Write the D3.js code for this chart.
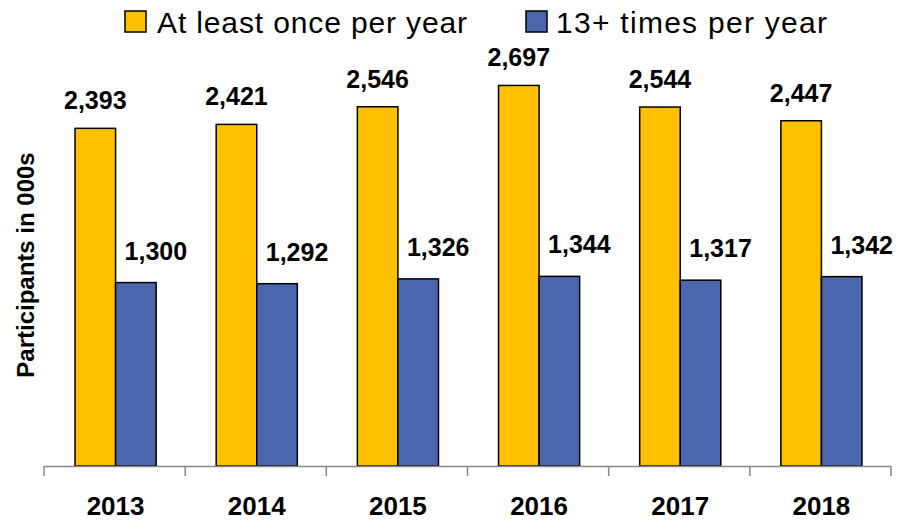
<!DOCTYPE html>
<html>
<head>
<meta charset="utf-8">
<script src="https://cdn.jsdelivr.net/npm/d3@7"></script>
<style>
  body { margin: 0; background: #fff; }
</style>
</head>
<body>
<div id="chart"></div>
<script>
const years = ["2013", "2014", "2015", "2016", "2017", "2018"];
const seriesNames = ["At least once per year", "13+ times per year"];
const onceValues = [2393, 2421, 2546, 2697, 2544, 2447];
const thirteenValues = [1300, 1292, 1326, 1344, 1317, 1342];
const seriesColors = ["#FFC000", "#4A66AC"];

const width = 901;
const height = 522;
const labelFont = "'Liberation Sans', Arial, sans-serif";

const svg = d3.select("#chart")
  .append("svg")
  .attr("width", width)
  .attr("height", height);

const x = d3.scaleBand()
  .domain(years)
  .range([44, 891]);

// two bars per year, ~40px each, sitting in the middle of the band
const inner = d3.scaleBand()
  .domain([0, 1])
  .range([1, x.bandwidth() + 1])
  .paddingOuter(0.74)
  .paddingInner(0);

const y = d3.scaleLinear()
  .domain([0, 3000])
  .range([466, 466 - 0.1411 * 3000]);

const series = [onceValues, thirteenValues];

// bars + value labels
series.forEach((values, s) => {
  svg.append("g")
    .selectAll("rect")
    .data(values)
    .enter()
    .append("rect")
    .attr("x", (d, i) => x(years[i]) + inner(s))
    .attr("y", d => y(d))
    .attr("width", inner.bandwidth())
    .attr("height", d => y(0) - y(d))
    .attr("fill", seriesColors[s])
    .attr("stroke", "#000")
    .attr("stroke-width", 1.5);

  svg.append("g")
    .selectAll("text")
    .data(values)
    .enter()
    .append("text")
    .attr("x", (d, i) => x(years[i]) + inner(s) + inner.bandwidth() / 2 + (s === 1 ? 20 : 0))
    .attr("y", d => y(d) - (s === 1 ? 23 : 19))
    .attr("text-anchor", "middle")
    .attr("font-family", labelFont)
    .attr("font-weight", "bold")
    .attr("font-size", "25px")
    .attr("fill", "#000")
    .text(d => d3.format(",")(d));
});

// x axis: baseline with ticks on the category boundaries
const axisG = svg.append("g")
  .attr("transform", `translate(0,${y(0)})`)
  .call(d3.axisBottom(x).tickSize(0).tickFormat(""));
axisG.select(".domain").attr("stroke", "#888").attr("stroke-width", 1.5);

const boundaries = d3.range(years.length + 1).map(i => x.range()[0] + i * x.step());
axisG.selectAll("line.bound")
  .data(boundaries)
  .enter()
  .append("line")
  .attr("class", "bound")
  .attr("x1", d => d)
  .attr("x2", d => d)
  .attr("y1", 0)
  .attr("y2", 10)
  .attr("stroke", "#888")
  .attr("stroke-width", 1.5);

svg.append("g")
  .selectAll("text")
  .data(years)
  .enter()
  .append("text")
  .attr("x", d => x(d) + x.bandwidth() / 2 + 1)
  .attr("y", 515)
  .attr("text-anchor", "middle")
  .attr("font-family", labelFont)
  .attr("font-weight", "bold")
  .attr("font-size", "26px")
  .text(d => d);

// y axis title
svg.append("text")
  .attr("transform", "translate(34,265) rotate(-90)")
  .attr("text-anchor", "middle")
  .attr("font-family", labelFont)
  .attr("font-weight", "bold")
  .attr("font-size", "24px")
  .text("Participants in 000s");

// legend
const legendX = [125, 526];
const legendTextX = [157, 556];
const legendLen = [310, 271];
const legend = svg.append("g");
seriesNames.forEach((name, s) => {
  legend.append("rect")
    .attr("x", legendX[s])
    .attr("y", 11)
    .attr("width", 21)
    .attr("height", 21)
    .attr("fill", seriesColors[s])
    .attr("stroke", "#000")
    .attr("stroke-width", 1.5);
  legend.append("text")
    .attr("x", legendTextX[s])
    .attr("y", 33)
    .attr("font-family", labelFont)
    .attr("font-size", "30px")
    .attr("textLength", legendLen[s])
    .attr("lengthAdjust", "spacing")
    .text(name);
});
</script>
</body>
</html>
